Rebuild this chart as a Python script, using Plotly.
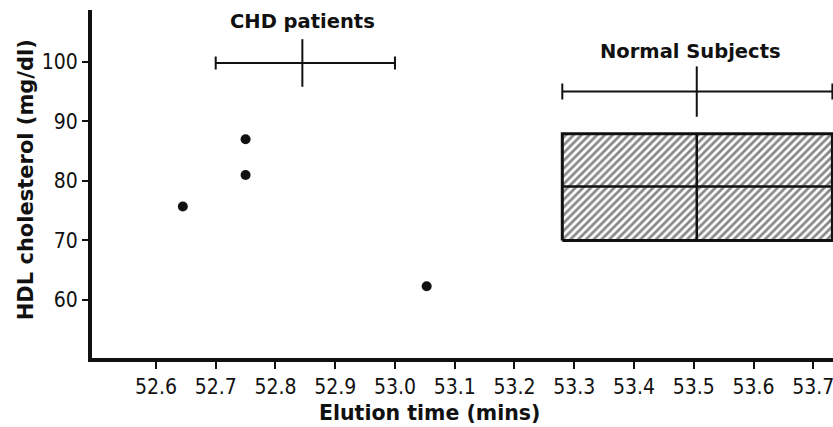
import plotly.graph_objects as go

# ---- data ----
chd_time = [52.645, 52.75, 52.75, 53.053]
chd_hdl = [75.7, 81.0, 87.0, 62.3]

chd_mean_time = 52.845
chd_time_low = 52.70
chd_time_high = 53.00
chd_bar_level = 99.8

normal_mean_time = 53.505
normal_time_low = 53.28
normal_time_high = 53.732
normal_bar_level = 95.0

normal_hdl_low = 70.0
normal_hdl_mean = 79.05
normal_hdl_high = 87.9

x_ticks = [52.6, 52.7, 52.8, 52.9, 53.0, 53.1, 53.2, 53.3, 53.4, 53.5, 53.6, 53.7]
x_tick_labels = ["52.6", "52.7", "52.8", "52.9", "53.0", "53.1", "53.2", "53.3", "53.4", "53.5", "53.6", "53.7"]
y_ticks = [60, 70, 80, 90, 100]
y_tick_labels = ["60", "70", "80", "90", "100"]

group_labels = ["CHD patients", "Normal Subjects"]
x_title = "Elution time (mins)"
y_title = "HDL cholesterol (mg/dl)"

TICKFONT = dict(family="Liberation Sans Narrow, DejaVu Sans Condensed, Liberation Sans, sans-serif", size=21, color="#111")
LABELFONT = dict(family="DejaVu Sans, sans-serif", size=19.5, color="#111", weight="bold")

fig = go.Figure()

# hatched normal range box
fig.add_trace(go.Scatter(
    x=[normal_time_low, normal_time_high, normal_time_high, normal_time_low, normal_time_low],
    y=[normal_hdl_low, normal_hdl_low, normal_hdl_high, normal_hdl_high, normal_hdl_low],
    mode="lines", fill="toself",
    fillcolor="white",
    fillpattern=dict(shape="/", size=5.5, solidity=0.5, fgcolor="#111", bgcolor="white"),
    line=dict(color="#111", width=3), hoverinfo="skip", showlegend=False, cliponaxis=False))
# box cross lines
fig.add_trace(go.Scatter(x=[normal_time_low, normal_time_high], y=[normal_hdl_mean, normal_hdl_mean],
                         mode="lines", line=dict(color="#111", width=2.5), showlegend=False, cliponaxis=False))
fig.add_trace(go.Scatter(x=[normal_mean_time, normal_mean_time], y=[normal_hdl_low, normal_hdl_high],
                         mode="lines", line=dict(color="#111", width=2.5), showlegend=False, cliponaxis=False))

# CHD time range bar
fig.add_trace(go.Scatter(
    x=[chd_mean_time], y=[chd_bar_level], mode="markers",
    marker=dict(symbol="line-ns", size=34, line=dict(color="#111", width=2)),
    error_x=dict(type="data", symmetric=False,
                 array=[chd_time_high - chd_mean_time], arrayminus=[chd_mean_time - chd_time_low],
                 color="#111", thickness=2, width=6.5),
    showlegend=False, cliponaxis=False))

# Normal time range bar
fig.add_trace(go.Scatter(
    x=[normal_mean_time], y=[normal_bar_level], mode="markers",
    marker=dict(symbol="line-ns", size=36, line=dict(color="#111", width=2)),
    error_x=dict(type="data", symmetric=False,
                 array=[normal_time_high - normal_mean_time], arrayminus=[normal_mean_time - normal_time_low],
                 color="#111", thickness=2, width=8),
    showlegend=False, cliponaxis=False))

# CHD patient points
fig.add_trace(go.Scatter(x=chd_time, y=chd_hdl, mode="markers",
                         marker=dict(color="#111", size=10), showlegend=False))

fig.add_annotation(x=chd_mean_time, y=106.7, text=group_labels[0], showarrow=False,
                   font=LABELFONT, xanchor="center", yanchor="middle")
fig.add_annotation(x=normal_mean_time - 0.01, y=101.7, text=group_labels[1], showarrow=False,
                   font=LABELFONT, xanchor="center", yanchor="middle")

# axis titles
fig.add_annotation(xref="paper", yref="paper", x=0.456, y=-0.158, text=x_title, showarrow=False,
                   font=dict(family="DejaVu Sans, sans-serif", size=20.5, color="#111", weight="bold"),
                   xanchor="center", yanchor="middle")
fig.add_annotation(xref="paper", yref="paper", x=-0.089, y=0.511, text=y_title, showarrow=False,
                   textangle=-90,
                   font=dict(family="DejaVu Sans, sans-serif", size=21, color="#111", weight="bold"),
                   xanchor="center", yanchor="middle")

fig.update_layout(
    width=833, height=427,
    margin=dict(l=92, r=0, t=10, b=69),
    paper_bgcolor="white", plot_bgcolor="white",
    xaxis=dict(range=[52.493, 53.733], tickvals=x_ticks, ticktext=x_tick_labels,
               showgrid=False, zeroline=False, showline=True, linecolor="#111", linewidth=3.5,
               ticks="outside", ticklen=7, tickwidth=2, tickcolor="#111", tickfont=TICKFONT,
               ticklabeloverflow="allow"),
    yaxis=dict(range=[50.25, 108.7], tickvals=y_ticks, ticktext=y_tick_labels,
               showgrid=False, zeroline=False, showline=True, linecolor="#111", linewidth=4,
               ticks="outside", ticklen=6, tickwidth=2, tickcolor="#111", tickfont=TICKFONT),
)

fig.write_html("out.html")
